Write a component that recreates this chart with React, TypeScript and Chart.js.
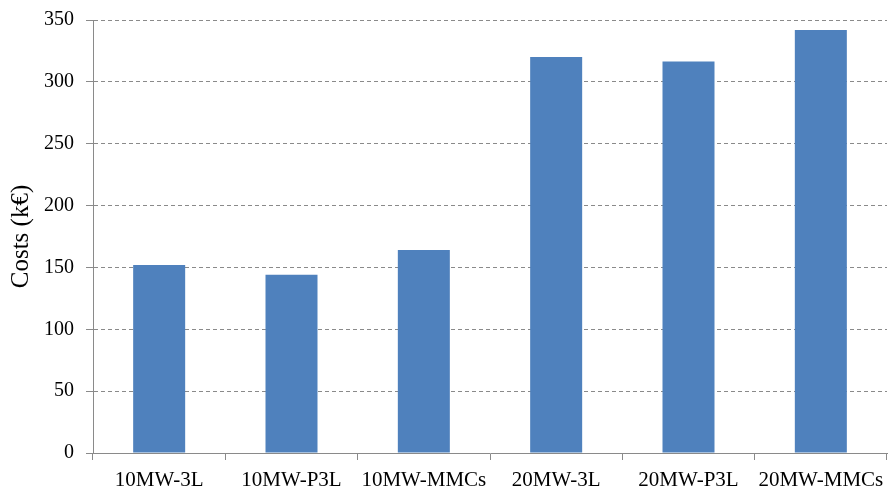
import React, { useEffect, useRef } from "react";
import { Chart, registerables } from "chart.js";

Chart.register(...registerables);

const categories = ["10MW-3L", "10MW-P3L", "10MW-MMCs", "20MW-3L", "20MW-P3L", "20MW-MMCs"];
const costs = [152, 144, 164, 320, 316.5, 342];
const yTicks = [0, 50, 100, 150, 200, 250, 300, 350];

const FONT = "'Liberation Serif', 'Times New Roman', serif";
const GRID = "#8a8a8a";

export default function App() {
  const ref = useRef<HTMLCanvasElement | null>(null);

  useEffect(() => {
    document.body.style.margin = "0";
    const canvas = ref.current;
    if (!canvas) return;
    const chart = new Chart(canvas, {
      type: "bar",
      data: {
        labels: categories,
        datasets: [
          {
            label: "Costs",
            data: costs,
            backgroundColor: "#4f81bd",
            borderWidth: 0,
            categoryPercentage: 1,
            barPercentage: 0.393,
          },
        ],
      },
      options: {
        animation: false,
        responsive: false,
        devicePixelRatio: 1,
        layout: { padding: { top: 20, right: 1, left: 0, bottom: 0 } },
        plugins: { legend: { display: false }, tooltip: { enabled: false } },
        scales: {
          x: {
            offset: true,
            grid: {
              offset: true,
              drawOnChartArea: false,
              drawTicks: true,
              tickLength: 7,
              tickColor: GRID,
            },
            border: { color: GRID, width: 1 },
            ticks: {
              color: "#000",
              font: { family: FONT, size: 21 },
              padding: 8,
              maxRotation: 0,
              autoSkip: false,
            },
            afterFit: (s: any) => {
              s.height = 40;
              s.paddingLeft = 0;
              s.paddingRight = 0;
            },
          },
          y: {
            min: 0,
            max: 350,
            afterBuildTicks: (s: any) => {
              s.ticks = yTicks.map((v) => ({ value: v }));
            },
            grid: {
              color: (ctx: any) => (ctx.tick && ctx.tick.value === 0 ? "rgba(0,0,0,0)" : GRID),
              tickColor: GRID,
              tickLength: 7,
              lineWidth: 1,
            },
            border: { color: GRID, width: 1, dash: [4, 3] },
            ticks: {
              color: "#000",
              font: { family: FONT, size: 20 },
              padding: 12,
            },
            title: {
              display: true,
              text: "Costs (k€)",
              color: "#000",
              font: { family: FONT, size: 25 },
              padding: { top: 6, bottom: 0 },
            },
            afterFit: (s: any) => {
              s.width = 93;
              s.paddingTop = 0;
              s.paddingBottom = 0;
            },
          },
        },
      },
    });
    return () => chart.destroy();
  }, []);

  return (
    <div style={{ width: 888, height: 493, background: "#fff" }}>
      <canvas ref={ref} width={888} height={493} style={{ display: "block" }} />
    </div>
  );
}
